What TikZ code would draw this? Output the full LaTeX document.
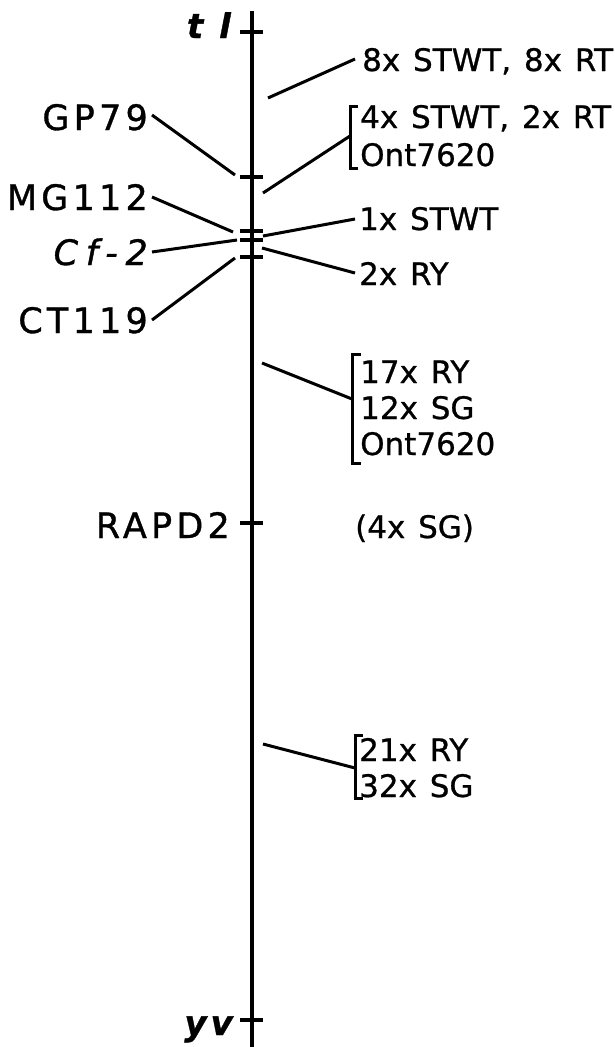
\documentclass[tikz,border=0pt]{standalone}
\usepackage{fontspec}
\setmainfont{DejaVu Sans}
\newfontfamily\lblfont[LetterSpace=12,FakeBold=1]{DejaVu Sans}
\newfontfamily\genefont[LetterSpace=22,FakeBold=1]{DejaVu Sans}
\newfontfamily\rtfont[WordSpace=1.3,FakeBold=0.8]{DejaVu Sans}
\begin{document}
\begin{tikzpicture}[x=1pt,y=-1pt,
  chrom/.style={line width=3.4pt},
  tickmark/.style={line width=4pt},
  lead/.style={line width=3pt},
  brk/.style={line width=3pt},
  lbl/.style={inner sep=0pt,anchor=base east,font=\fontsize{35}{35}\selectfont\lblfont},
  gene/.style={inner sep=0pt,anchor=base east,font=\fontsize{35}{35}\selectfont\genefont\itshape},
  bgene/.style={inner sep=0pt,anchor=base east,font=\fontsize{34}{34}\selectfont\lblfont\bfseries\itshape},
  rt/.style={inner sep=0pt,anchor=base west,font=\fontsize{31}{37}\selectfont\rtfont},
]
\useasboundingbox (0,0) rectangle (615,1047);
% chromosome
\coordinate (top) at (252,11);
\coordinate (bot) at (252,1047);
\draw[chrom] (top) -- (bot);
% ticks
\foreach \n/\y in {tl/32,gp/177,mg/231,cf/240,ct/257,rapd/523,yv/1020}{
  \coordinate (\n-a) at (240,\y);
  \coordinate (\n-b) at (263,\y);
  \draw[tickmark] (\n-a) -- (\n-b);
}
% left labels
\node[bgene] (ltl) at (231,38) {t l};
\node[lbl] (lgp) at (148,130) {GP79};
\node[lbl] (lmg) at (148,210) {MG112};
\node[gene] (lcf) at (148,265) {Cf-2};
\node[lbl] (lct) at (148,333) {CT119};
\node[lbl] (lrapd) at (230,538) {RAPD2};
\node[bgene] (lyv) at (233,1035) {yv};
% left leaders
\coordinate (gp1) at (152,115); \coordinate (gp2) at (235,175);
\coordinate (mg1) at (152,197); \coordinate (mg2) at (233,232);
\coordinate (cf1) at (152,252); \coordinate (cf2) at (237,240);
\coordinate (ct1) at (152,320); \coordinate (ct2) at (235,258);
\draw[lead] (gp1) -- (gp2);
\draw[lead] (mg1) -- (mg2);
\draw[lead] (cf1) -- (cf2);
\draw[lead] (ct1) -- (ct2);
% right texts
\node[rt] (r1) at (362,71) {8x STWT, 8x RT};
\node[rt] (r2a) at (360,128) {4x STWT, 2x RT};
\node[rt] (r2b) at (360,166) {Ont7620};
\node[rt] (r3) at (359,230) {1x STWT};
\node[rt] (r4) at (359,285) {2x RY};
\node[rt] (r5a) at (360,383) {17x RY};
\node[rt] (r5b) at (360,419) {12x SG};
\node[rt] (r5c) at (360,455) {Ont7620};
\node[rt] (r6) at (355,538) {(4x SG)};
\node[rt] (r7a) at (359,761) {21x RY};
\node[rt] (r7b) at (359,797) {32x SG};
% brackets
\coordinate (b2t) at (350,106); \coordinate (b2b) at (350,168); \coordinate (b2m) at (350,136);
\draw[brk] ([xshift=8pt]b2t) -- (b2t) -- (b2b) -- ([xshift=8pt]b2b);
\coordinate (b5t) at (352,354); \coordinate (b5b) at (352,463); \coordinate (b5m) at (352,399);
\draw[brk] ([xshift=9pt]b5t) -- (b5t) -- (b5b) -- ([xshift=9pt]b5b);
\coordinate (b7t) at (355,735); \coordinate (b7b) at (355,798); \coordinate (b7m) at (355,768);
\draw[brk] ([xshift=8pt]b7t) -- (b7t) -- (b7b) -- ([xshift=8pt]b7b);
% right leaders
\coordinate (s1) at (268,98); \coordinate (e1) at (355,59);
\coordinate (s2) at (263,193);
\coordinate (s3) at (263,236); \coordinate (e3) at (355,219);
\coordinate (s4) at (262,248); \coordinate (e4) at (355,273);
\coordinate (s5) at (262,363);
\coordinate (s7) at (263,744);
\draw[lead] (s1) -- (e1);
\draw[lead] (s2) -- (b2m);
\draw[lead] (s3) -- (e3);
\draw[lead] (s4) -- (e4);
\draw[lead] (s5) -- (b5m);
\draw[lead] (s7) -- (b7m);
\end{tikzpicture}
\end{document}
